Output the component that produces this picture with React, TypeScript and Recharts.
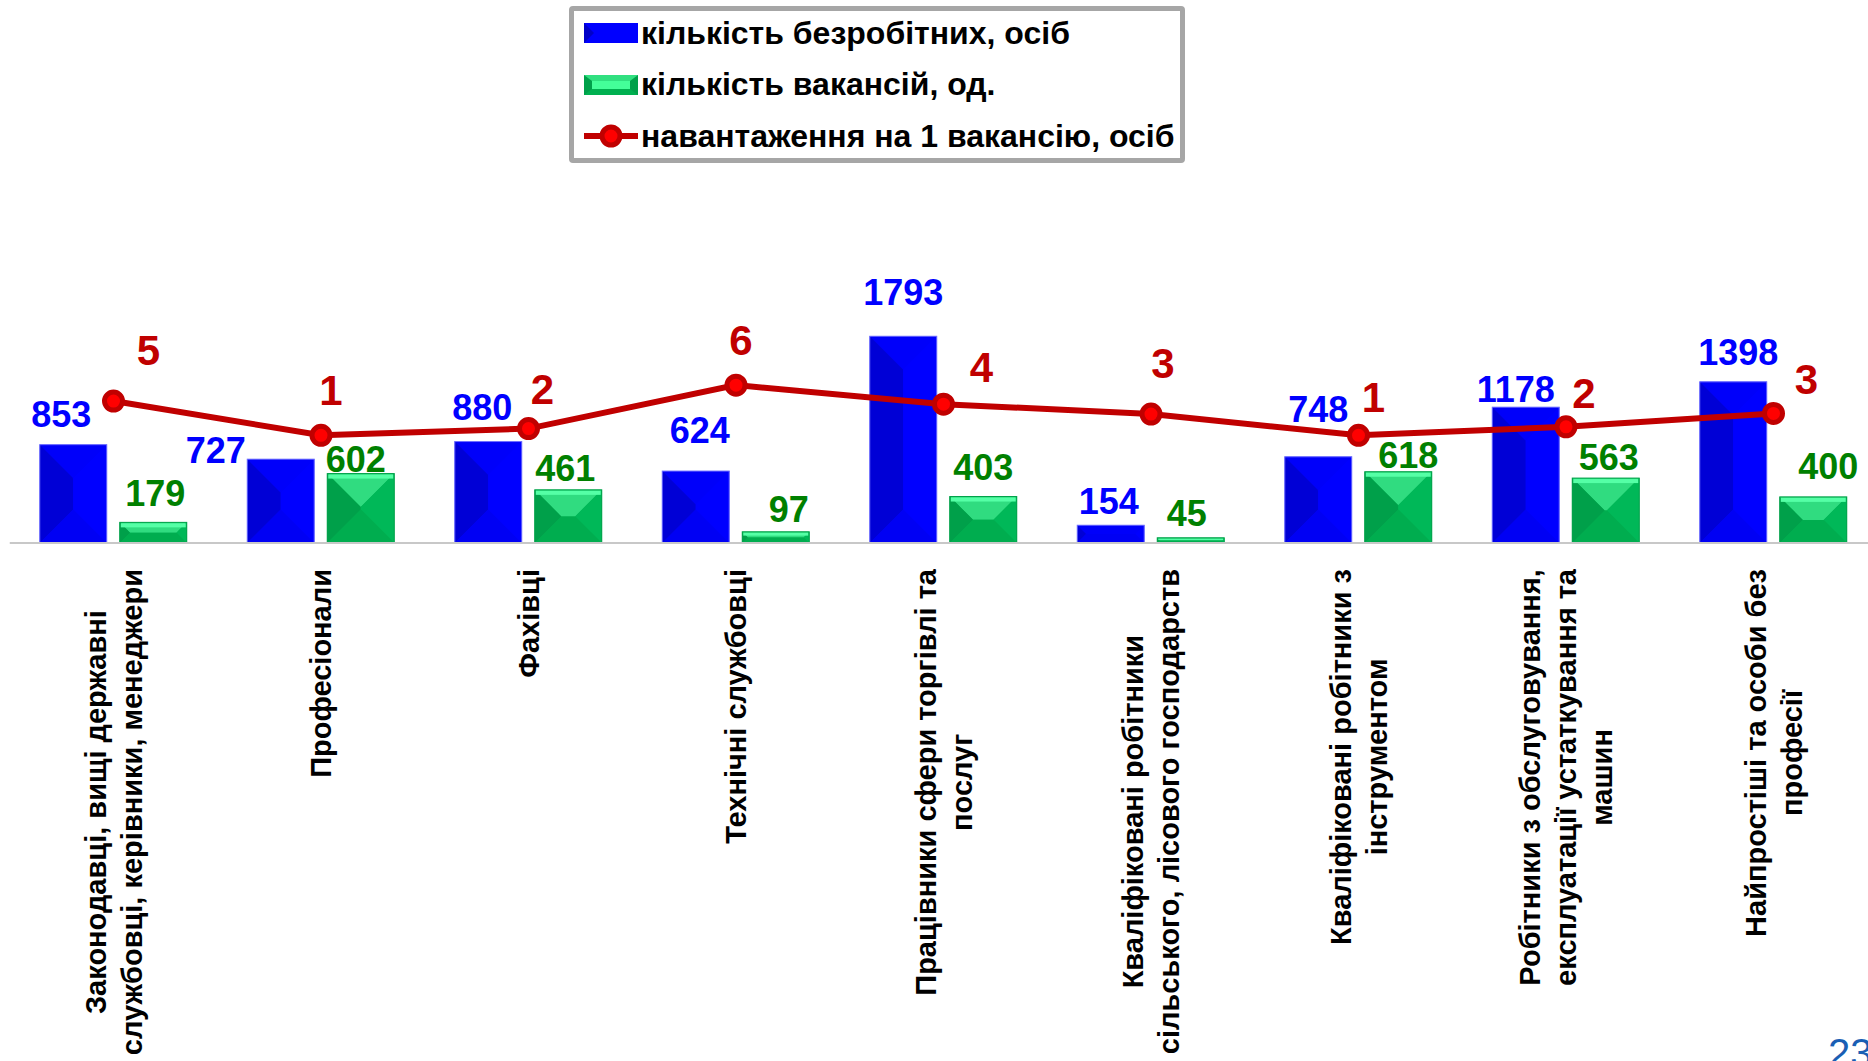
import React from 'react';
import { ComposedChart, Bar, Line, XAxis, YAxis, LabelList, Legend } from 'recharts';

const CATEGORIES = [
  'Законодавці, вищі державні\nслужбовці, керівники, менеджери',
  'Професіонали',
  'Фахівці',
  'Технічні службовці',
  'Працівники сфери торгівлі та\nпослуг',
  'Кваліфіковані робітники\nсільського, лісового господарств',
  'Кваліфіковані робітники з\nінструментом',
  'Робітники з обслуговування,\nексплуатації устаткування та\nмашин',
  'Найпростіші та особи без\nпрофесії',
];
const UNEMPLOYED = [853, 727, 880, 624, 1793, 154, 748, 1178, 1398];
const VACANCIES = [179, 602, 461, 97, 403, 45, 618, 563, 400];
const LOAD = [4.77, 1.21, 1.91, 6.43, 4.45, 3.42, 1.21, 2.09, 3.49];

const SERIES_NAMES = [
  'кількість безробітних, осіб',
  'кількість вакансій, од.',
  'навантаження на 1 вакансію, осіб',
];

// labels were dragged by hand in the original, so each one gets its own nudge
const UNEMPLOYED_NUDGE = [[-12, -31], [-65, -9], [-6, -34], [4, -41], [0, -44], [-2, -24], [0, -48], [-10, -18], [5, -30]];
const VACANCY_NUDGE = [[2, -29], [-5, -14], [-3, -22], [13, -23], [0, -29], [-4, -25], [10, -17], [3, -21], [15, -31]];
const LOAD_NUDGE = [[35, -51], [10, -45], [14, -40], [5, -45], [38, -37], [12, -51], [15, -38], [18, -34], [33, -34]];

const FONT = '"Liberation Sans", Arial, sans-serif';
const TICK_FS = 29;
const TICK_LINE = 36;

const data = CATEGORIES.map((name, i) => ({
  name,
  unemployed: UNEMPLOYED[i],
  vacancies: VACANCIES[i],
  load: LOAD[i],
}));

const BLUE = { base: '#0000ff', top: '#0000fa', left: '#0000d6', right: '#0000ff', bottom: '#0000f4', stroke: '#7070ff' };
const GREEN = { base: '#00b050', top: '#30dc80', left: '#00a04a', right: '#00b858', bottom: '#00ad4f', stroke: '#00a048' };

const bevelBar = (c: any, highlight?: string) => (props: any) => {
  const { x, y, width: w, height: h } = props;
  if (!h || h <= 0) return null;
  const i = Math.min(w, h) / 2;
  const p = (pts: number[][]) => pts.map(q => q.join(',')).join(' ');
  return (
    <g>
      <rect x={x} y={y} width={w} height={h} fill={c.base} />
      <polygon points={p([[x, y], [x + w, y], [x + w - i, y + i], [x + i, y + i]])} fill={c.top} />
      <polygon points={p([[x, y], [x + i, y + i], [x + i, y + h - i], [x, y + h]])} fill={c.left} />
      <polygon points={p([[x + w, y], [x + w, y + h], [x + w - i, y + h - i], [x + w - i, y + i]])} fill={c.right} />
      <polygon points={p([[x, y + h], [x + i, y + h - i], [x + w - i, y + h - i], [x + w, y + h]])} fill={c.bottom} />
      {highlight && <rect x={x + 1} y={y + 1} width={w - 2} height={Math.min(4, h / 4)} fill={highlight} />}
      <rect x={x} y={y} width={w} height={h} fill="none" stroke={c.stroke} strokeWidth={1} />
    </g>
  );
};

const makeLabel = (nudge: number[][], color: string, size: number, fmt: (v: any) => string) => (props: any) => {
  const vb = props.viewBox || {};
  const x = vb.x ?? props.x;
  const y = vb.y ?? props.y;
  const w = vb.width ?? props.width ?? 0;
  const [dx, dy] = nudge[props.index] || [0, 0];
  return (
    <text
      x={x + w / 2 + dx}
      y={y + dy + size * 0.358}
      textAnchor="middle"
      fill={color}
      fontSize={size}
      fontWeight="bold"
      fontFamily={FONT}
    >
      {fmt(props.value)}
    </text>
  );
};

let measureCtx: CanvasRenderingContext2D | null = null;
const measure = (s: string) => {
  if (!measureCtx) measureCtx = document.createElement('canvas').getContext('2d');
  if (!measureCtx) return s.length * TICK_FS * 0.55;
  measureCtx.font = `bold ${TICK_FS}px ${FONT}`;
  return measureCtx.measureText(s).width;
};

const CategoryTick = (props: any) => {
  const { x, y, payload } = props;
  const lines = String(payload.value).split('\n');
  const maxW = Math.max(...lines.map(measure));
  const n = lines.length;
  return (
    <g transform={`translate(${x},${y + maxW / 2}) rotate(-90)`}>
      {lines.map((ln, j) => (
        <text
          key={j}
          x={0}
          y={(j - (n - 1) / 2) * TICK_LINE + TICK_FS * 0.358}
          textAnchor="middle"
          fill="#000"
          fontSize={TICK_FS}
          fontWeight="bold"
          fontFamily={FONT}
        >
          {ln}
        </text>
      ))}
    </g>
  );
};

const LegendIcon = ({ kind }: { kind: number }) => {
  if (kind === 0) {
    return (
      <svg width={54} height={20}>
        <rect x={0} y={0} width={54} height={20} fill="#0000ff" />
        <polygon points="0,0 10,10 0,20" fill="#0000c8" />
      </svg>
    );
  }
  if (kind === 1) {
    return (
      <svg width={54} height={20}>
        <rect x={0} y={0} width={54} height={20} fill="#00a04a" />
        <polygon points="0,0 54,0 46,6 8,6" fill="#30e080" />
        <rect x={8} y={6} width={38} height={8} fill="#44ff99" />
        <polygon points="0,20 8,14 46,14 54,20" fill="#00b050" />
      </svg>
    );
  }
  return (
    <svg width={54} height={26}>
      <line x1={0} y1={13} x2={54} y2={13} stroke="#c00000" strokeWidth={6} />
      <circle cx={27} cy={13} r={9} fill="#ff0000" stroke="#c00000" strokeWidth={5} />
    </svg>
  );
};

const LegendBox = () => (
  <div
    style={{
      width: 616,
      height: 157,
      boxSizing: 'border-box',
      border: '5px solid #a6a6a6',
      borderRadius: 4,
      background: '#fff',
      position: 'relative',
      fontFamily: FONT,
    }}
  >
    {SERIES_NAMES.map((s, k) => (
      <div
        key={s}
        style={{
          position: 'absolute',
          left: 10,
          top: 22 + k * 51.5 - 20,
          height: 40,
          display: 'flex',
          alignItems: 'center',
          whiteSpace: 'nowrap',
        }}
      >
        <LegendIcon kind={k} />
        <span style={{ marginLeft: 3, fontSize: 32, fontWeight: 'bold', color: '#000' }}>{s}</span>
      </div>
    ))}
  </div>
);

export default function App() {
  return (
    <div
      style={{
        position: 'absolute',
        left: 0,
        top: 0,
        width: 1868,
        height: 1061,
        overflow: 'hidden',
        background: '#fff',
      }}
    >
      <ComposedChart
        width={1880}
        height={1061}
        data={data}
        margin={{ top: 312.4, right: 2.75, bottom: 18, left: 9.75 }}
        barGap={13}
      >
        <XAxis
          dataKey="name"
          interval={0}
          height={500}
          tickLine={false}
          tickSize={0}
          tickMargin={26}
          axisLine={{ stroke: '#c8c8c8', strokeWidth: 2 }}
          tick={<CategoryTick />}
        />
        <YAxis yAxisId="left" hide domain={[0, 2000]} allowDataOverflow />
        <YAxis yAxisId="right" orientation="right" hide domain={[-10, 14]} allowDataOverflow />
        <Legend
          verticalAlign="middle"
          align="center"
          content={() => <LegendBox />}
          wrapperStyle={{ left: 569, top: 6, width: 616, height: 157 }}
        />
        <Bar
          yAxisId="left"
          dataKey="unemployed"
          name={SERIES_NAMES[0]}
          barSize={67}
          shape={bevelBar(BLUE)}
          isAnimationActive={false}
        >
          <LabelList dataKey="unemployed" content={makeLabel(UNEMPLOYED_NUDGE, '#0000ff', 36, v => String(v))} />
        </Bar>
        <Bar
          yAxisId="left"
          dataKey="vacancies"
          name={SERIES_NAMES[1]}
          barSize={67}
          shape={bevelBar(GREEN, '#55ffa6')}
          isAnimationActive={false}
        >
          <LabelList dataKey="vacancies" content={makeLabel(VACANCY_NUDGE, '#008000', 36, v => String(v))} />
        </Bar>
        <Line
          yAxisId="right"
          type="linear"
          dataKey="load"
          name={SERIES_NAMES[2]}
          stroke="#c00000"
          strokeWidth={6}
          dot={{ r: 9, fill: '#ff0000', stroke: '#c00000', strokeWidth: 5 }}
          activeDot={false}
          isAnimationActive={false}
        >
          <LabelList dataKey="load" content={makeLabel(LOAD_NUDGE, '#c00000', 42, v => String(Math.round(Number(v))))} />
        </Line>
      </ComposedChart>
      <div
        style={{
          position: 'absolute',
          left: 1828,
          top: 1033,
          fontFamily: FONT,
          fontSize: 40,
          lineHeight: 1,
          color: '#1a5fb4',
        }}
      >
        23
      </div>
    </div>
  );
}
